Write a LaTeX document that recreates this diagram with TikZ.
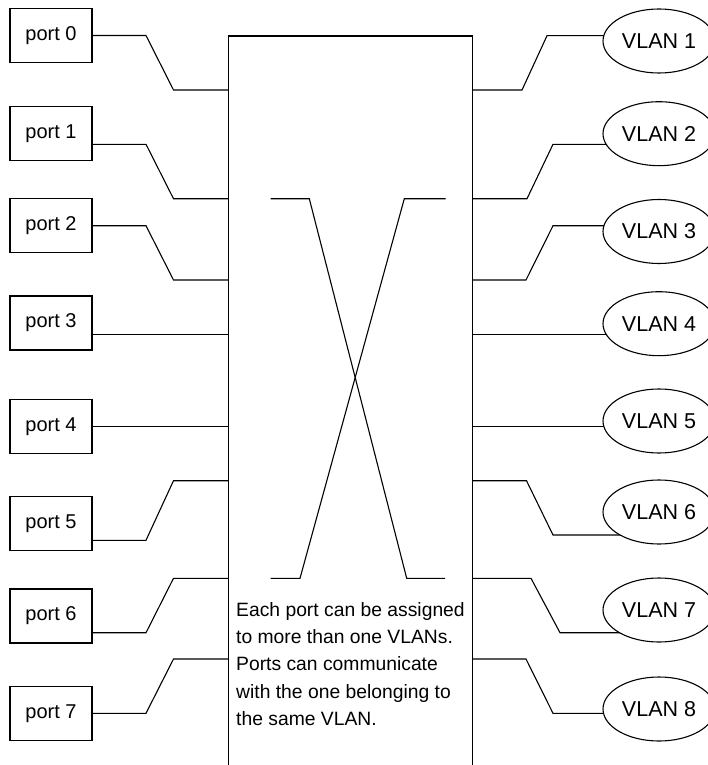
\documentclass[tikz,border=0pt]{standalone}
\usepackage{fontspec}
\setmainfont{Liberation Sans}
\usetikzlibrary{shapes.geometric}
\pgfdeclarelayer{bg}
\pgfsetlayers{bg,main}
\begin{document}
\begin{tikzpicture}[x=1pt,y=-1pt,line width=1.1pt,
  portbox/.style={draw,rectangle,minimum width=82pt,minimum height=54pt,inner sep=0pt,font=\fontsize{20}{24}\selectfont},
  vlan/.style={draw,ellipse,fill=white,minimum width=112pt,minimum height=64pt,inner sep=0pt,font=\fontsize{21.5}{24}\selectfont},
  wire/.style={line width=1.1pt,line join=miter}]
\clip (0,0) rectangle (708,765);
% switch
\node[draw,rectangle,minimum width=244pt,minimum height=800pt,anchor=north west,inner sep=0pt] (sw) at (228,35.5) {};
% ports
\node[portbox] (p0) at (51,35.3) {port 0};
\node[portbox] (p1) at (51,133.7) {port 1};
\node[portbox] (p2) at (51,225.3) {port 2};
\node[portbox] (p3) at (51,323) {port 3};
\node[portbox] (p4) at (51,426.3) {port 4};
\node[portbox] (p5) at (51,523.7) {port 5};
\node[portbox] (p6) at (51,616) {port 6};
\node[portbox] (p7) at (51,713.7) {port 7};
% vlans
\node[vlan] (v1) at (659,41) {VLAN 1};
\node[vlan] (v2) at (659,133.7) {VLAN 2};
\node[vlan] (v3) at (659,231.5) {VLAN 3};
\node[vlan] (v4) at (659,323.7) {VLAN 4};
\node[vlan] (v5) at (659,421) {VLAN 5};
\node[vlan] (v6) at (659,512) {VLAN 6};
\node[vlan] (v7) at (659,610) {VLAN 7};
\node[vlan] (v8) at (659,709) {VLAN 8};
% port connectors
\draw[wire] (p0.east |- 0,35.5) -- (146,35.5) -- (173.5,90) -- (sw.west |- 0,90);
\draw[wire] (p1.east |- 0,144.3) -- (146,144.3) -- (173.5,198.7) -- (sw.west |- 0,198.7);
\draw[wire] (p2.east |- 0,225.7) -- (146,225.7) -- (173.5,280) -- (sw.west |- 0,280);
\draw[wire] (p3.east |- 0,334.3) -- (sw.west |- 0,334.3);
\draw[wire] (p4.east |- 0,426.7) -- (sw.west |- 0,426.7);
\draw[wire] (p5.east |- 0,540.3) -- (146,540.3) -- (173.5,480.7) -- (sw.west |- 0,480.7);
\draw[wire] (p6.east |- 0,632.7) -- (146,632.7) -- (173.5,578.3) -- (sw.west |- 0,578.3);
\draw[wire] (p7.east |- 0,713.3) -- (146,713.3) -- (173.5,659) -- (sw.west |- 0,659);
% vlan connectors
\begin{pgfonlayer}{bg}
\draw[wire] (sw.east |- 0,90) -- (522,90) -- (547,35.7) -- (v1.center |- 0,35.7);
\draw[wire] (sw.east |- 0,198.7) -- (527,198.7) -- (553,144.3) -- (v2.center |- 0,144.3);
\draw[wire] (sw.east |- 0,280) -- (526,280) -- (553,225.7) -- (v3.center |- 0,225.7);
\draw[wire] (sw.east |- 0,334.3) -- (v4.center |- 0,334.3);
\draw[wire] (sw.east |- 0,426.7) -- (v5.center |- 0,426.7);
\draw[wire] (sw.east |- 0,480.7) -- (526.5,480.7) -- (553,535) -- (v6.center |- 0,535);
\draw[wire] (sw.east |- 0,578.3) -- (531,578.3) -- (560,632.7) -- (v7.center |- 0,632.7);
\draw[wire] (sw.east |- 0,659) -- (526,659) -- (553,713.3) -- (v8.center |- 0,713.3);
\end{pgfonlayer}
% crossing inside switch
\draw[wire] (270.7,198.7) -- (309.3,198.7) -- (406.7,578.3) -- (445,578.3);
\draw[wire] (445.7,198.7) -- (404.3,198.7) -- (300,578.3) -- (270.7,578.3);
% note
\node[anchor=north west,inner sep=0pt,align=left,font=\fontsize{19.3}{27.4}\selectfont] (note) at (236,602)
  {Each port can be assigned\\to more than one VLANs.\\Ports can communicate\\with the one belonging to\\the same VLAN.};
\end{tikzpicture}
\end{document}
